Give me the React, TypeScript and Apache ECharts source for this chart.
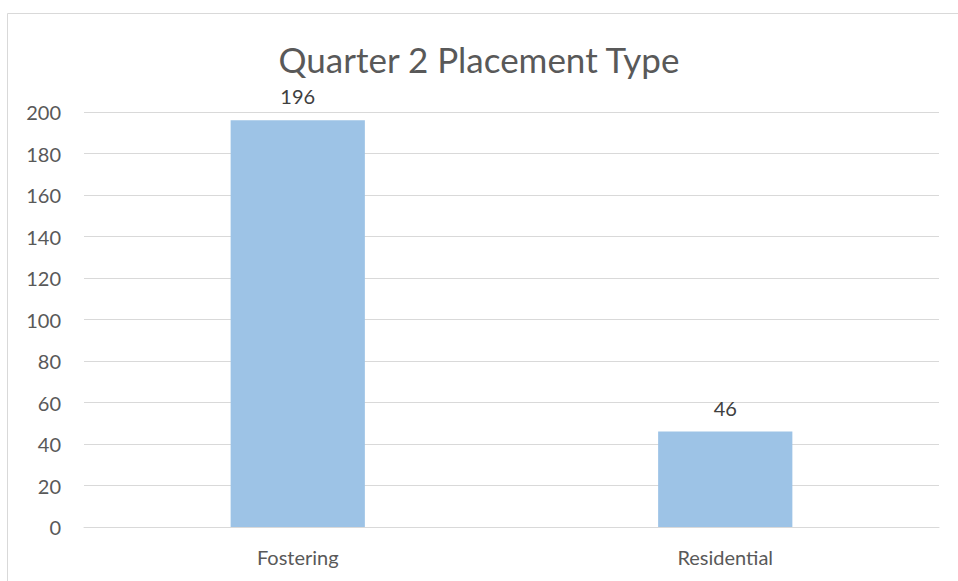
import React, { useEffect, useRef } from "react";
import * as echarts from "echarts";

const categories = ["Fostering", "Residential"];
const values = [196, 46];
const yTicks = { min: 0, max: 200, interval: 20 };
const titleText = "Quarter 2 Placement Type";

export default function App() {
  const ref = useRef<HTMLDivElement>(null);
  useEffect(() => {
    if (!ref.current) return;
    const chart = echarts.init(ref.current, undefined, { renderer: "svg" });
    const font = "Lato, 'Open Sans', sans-serif";
    chart.setOption({
      animation: false,
      backgroundColor: "#ffffff",
      title: {
        text: titleText,
        left: "center",
        top: 36,
        textStyle: { fontFamily: font, fontSize: 35, fontWeight: "normal", color: "#595959" },
      },
      graphic: [
        {
          type: "rect",
          shape: { x: 7.5, y: 13.5, width: 1000, height: 1000 },
          style: { fill: "none", stroke: "#d9d9d9", lineWidth: 1 },
          silent: true,
        },
      ],
      grid: { left: 84, right: 19, top: 112, bottom: 54, containLabel: false },
      xAxis: {
        type: "category",
        data: categories,
        axisLine: { show: true, lineStyle: { color: "#d9d9d9", width: 1 } },
        axisTick: { show: false },
        axisLabel: { fontFamily: font, fontSize: 20, color: "#595959", margin: 20 },
      },
      yAxis: {
        type: "value",
        min: yTicks.min,
        max: yTicks.max,
        interval: yTicks.interval,
        axisLine: { show: false },
        axisTick: { show: false },
        splitLine: { lineStyle: { color: "#d9d9d9", width: 1 } },
        axisLabel: { fontFamily: font, fontSize: 20, color: "#595959", margin: 23 },
      },
      series: [
        {
          type: "bar",
          data: values,
          barWidth: "31.4%",
          itemStyle: { color: "#9dc3e6" },
          label: {
            show: true,
            position: "top",
            distance: 14,
            fontFamily: font,
            fontSize: 20,
            color: "#404040",
          },
        },
      ],
    });
    return () => chart.dispose();
  }, []);
  return <div ref={ref} style={{ width: 958, height: 581, position: "absolute", left: 0, top: 0 }} />;
}
